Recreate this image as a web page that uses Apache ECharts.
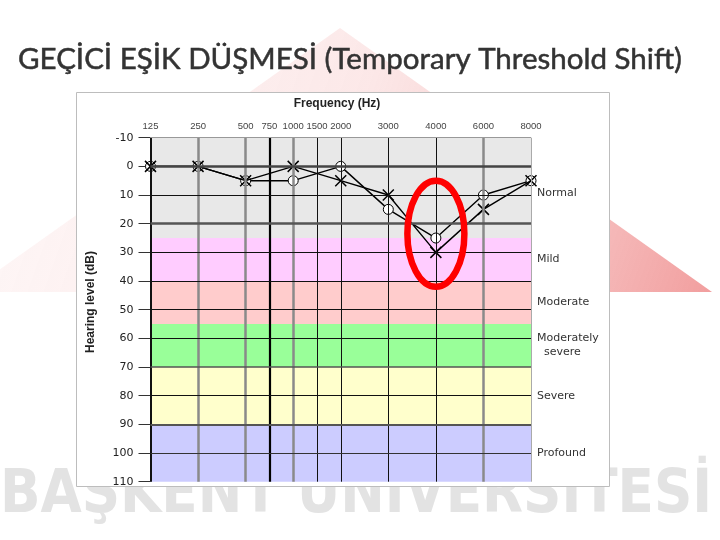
<!DOCTYPE html>
<html><head><meta charset="utf-8">
<script src="https://cdn.jsdelivr.net/npm/echarts@6/dist/echarts.min.js"></script>
<style>html,body{margin:0;padding:0;background:#fff}#c{width:720px;height:540px}</style>
</head><body><div id="c"></div>
<script>
// ---- data ----
const freqTicks   = [125, 250, 500, 750, 1000, 1500, 2000, 3000, 4000, 6000, 8000];
const freqTickPos = [0, 1, 2, 2.5, 3, 3.5, 4, 5, 6, 7, 8];   // audiogram axis positions
const testFreqs   = [125, 250, 500, 1000, 2000, 3000, 4000, 6000, 8000];
const crossDb     = [0, 0, 5, 0, 5, 10, 30, 15, 5];
const circleDb    = [0, 0, 5, 5, 0, 15, 25, 10, 5];
const dbMin = -10, dbMax = 110, dbStep = 10;
const bandNames = ['Normal', 'Mild', 'Moderate', 'Moderately\n  severe', 'Severe', 'Profound'];
const bandFrom  = [-10, 25, 40, 55, 70, 90];
const bandTo    = [25, 40, 55, 70, 90, 110];
const highlightFreq = 4000, highlightDb = 23.5;
const titleText = 'GEÇİCİ EŞİK DÜŞMESİ (Temporary Threshold Shift)';
const watermarkText = 'BAŞKENT ÜNİVERSİTESİ';

// ---- styles ----
const bandColors = ['#e8e8e8', '#ffccff', '#ffcccc', '#99ff99', '#ffffcc', '#ccccff'];
const vStyle = {125:['#111',2],250:['#8a8a8a',2.5],500:['#8a8a8a',2.5],750:['#000',2.2],1000:['#8a8a8a',2.5],
  1500:['#111',1],2000:['#111',1],3000:['#111',1],4000:['#111',1],6000:['#8a8a8a',2.5],8000:['#aaa',1]};
const hStyle = {'-10':['#999',1],'0':['#444',2.5],'10':['#111',1],'20':['#555',2.5],'30':['#111',1],'40':['#111',1],
  '50':['#111',1],'60':['#111',1],'70':['#555',1.5],'80':['#111',1],'90':['#555',2],'100':['#333',1]};

const pos = f => freqTickPos[freqTicks.indexOf(f)];
const dbTicks = [];
for (let v = dbMin; v < dbMax; v += dbStep) dbTicks.push(v);

function measure(text, font) {
  const ctx = document.createElement('canvas').getContext('2d');
  ctx.font = font;
  return ctx.measureText(text).width;
}

const chart = echarts.init(document.getElementById('c'), null, {renderer: 'canvas'});

const bandAreas = bandNames.map((n, i) => [
  {yAxis: bandFrom[i], name: n, itemStyle: {color: bandColors[i]},
   label: {offset: i === 0 ? [0, 5] : [0, 0]}},
  {yAxis: bandTo[i]}
]);
const vLines = freqTicks.map(f => ({xAxis: pos(f), lineStyle: {color: vStyle[f][0], width: vStyle[f][1], type: 'solid'}}));
const hLines = dbTicks.filter(v => hStyle[String(v)]).map(v => ({yAxis: v, lineStyle: {color: hStyle[String(v)][0], width: hStyle[String(v)][1], type: 'solid'}}));

chart.setOption({
  animation: false,
  backgroundColor: 'transparent',
  grid: {left: 150.5, right: 189, top: 137.7, bottom: 58.3},
  xAxis: {
    type: 'value', min: 0, max: 8, interval: 0.5, position: 'top',
    axisLine: {show: false}, axisTick: {show: false}, splitLine: {show: false},
    axisLabel: {
      margin: 6, fontSize: 9.5, color: '#444', fontFamily: 'Liberation Sans, Arial, sans-serif',
      formatter: v => { const i = freqTickPos.indexOf(v); return i >= 0 ? String(freqTicks[i]) : ''; }
    }
  },
  yAxis: {
    type: 'value', inverse: true, min: dbMin, max: dbMax, interval: dbStep,
    axisLine: {show: false}, splitLine: {show: false},
    axisTick: {show: true, length: 12, lineStyle: {color: '#333', width: 1}},
    axisLabel: {margin: 17, fontSize: 11, color: '#222', fontFamily: 'DejaVu Sans, sans-serif'}
  },
  series: [
    {type: 'line', data: [], z: 1, silent: true,
     markArea: {silent: true, data: bandAreas,
       label: {show: true, position: 'right', distance: 6, color: '#333', fontSize: 11, lineHeight: 14,
               fontFamily: 'DejaVu Sans, sans-serif'}}},
    {type: 'line', data: [], z: 2, silent: true,
     markLine: {silent: true, symbol: 'none', label: {show: false}, data: vLines.concat(hLines)}},
    {type: 'line', name: 'circle', z: 3, data: testFreqs.map((f, i) => [pos(f), circleDb[i]]),
     symbol: 'circle', symbolSize: 10, lineStyle: {color: '#000', width: 1.4},
     itemStyle: {color: '#fff', borderColor: '#000', borderWidth: 1}},
    {type: 'line', name: 'cross', z: 4, data: testFreqs.map((f, i) => [pos(f), crossDb[i]]),
     symbol: 'path://M0,0L10,10M10,0L0,10', symbolSize: 11, lineStyle: {color: '#000', width: 1.4},
     itemStyle: {color: 'rgba(0,0,0,0)', borderColor: '#000', borderWidth: 1.5}}
  ]
});

const hc = chart.convertToPixel({gridIndex: 0}, [pos(highlightFreq), highlightDb]);
const wmFont = 'bold 60px "Liberation Sans Narrow", "DejaVu Sans Condensed", "Liberation Sans", sans-serif';
const wmScale = 712 / measure(watermarkText, wmFont);
const tFont = '29px Lato, "Open Sans", sans-serif';
const tScale = 664 / measure(titleText, tFont);

chart.setOption({
  graphic: [
    {type: 'polygon', z: -10, silent: true,
     shape: {points: [[340, 28], [712, 292], [-32, 292]]},
     style: {fill: {type: 'linear', x: 0, y: 0, x2: 1, y2: 1, colorStops: [
       {offset: 0, color: 'rgba(240,150,150,0.06)'},
       {offset: 0.5, color: 'rgba(235,110,110,0.16)'},
       {offset: 1, color: 'rgba(225,40,40,0.45)'}]}}},
    {type: 'text', z: -9, silent: true, x: 0, y: 466, scaleX: wmScale,
     style: {text: watermarkText, fill: '#e3e3e3', font: wmFont}},
    {type: 'rect', z: -8, silent: true, shape: {x: 76.5, y: 92.5, width: 533, height: 394},
     style: {fill: '#fff', stroke: '#bdbdbd', lineWidth: 1}},
    {type: 'text', z: 5, silent: true, x: 18, y: 60, scaleX: tScale,
     style: {text: titleText, fill: '#333', verticalAlign: 'middle', font: tFont,
             stroke: '#333', lineWidth: 0.5}},
    {type: 'text', z: 5, silent: true, x: 337, y: 104,
     style: {text: 'Frequency (Hz)', fill: '#222', align: 'center', verticalAlign: 'middle',
             font: 'bold 12px "Liberation Sans", Arial, sans-serif'}},
    {type: 'text', z: 5, silent: true, x: 91, y: 302, rotation: Math.PI / 2,
     style: {text: 'Hearing level (dB)', fill: '#222', align: 'center', verticalAlign: 'middle',
             font: 'bold 12px "Liberation Sans", Arial, sans-serif'}},
    {type: 'ellipse', z: 100, silent: true, shape: {cx: hc[0], cy: hc[1], rx: 28.5, ry: 53},
     style: {fill: 'none', stroke: '#ff0000', lineWidth: 6.5}}
  ]
});
</script></body></html>
